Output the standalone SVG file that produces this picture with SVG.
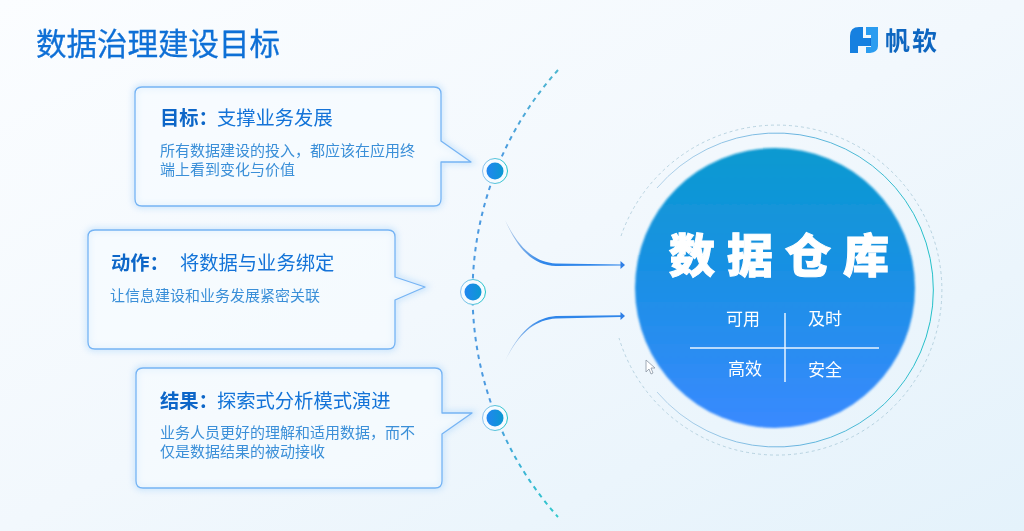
<svg xmlns="http://www.w3.org/2000/svg" width="1024" height="531" viewBox="0 0 1024 531">
<style>
text{font-family:"Noto Sans CJK SC","Noto Sans",sans-serif}
.title{font-size:30.5px;fill:#0f6fd6}
.head{font-size:19.3px;fill:#1273d8}
.headb{font-size:19.3px;fill:#0a66c8;font-weight:700}
.body{font-size:15px;fill:#3a8fd8}
.bub{fill:#f6fbff;fill-opacity:.6;stroke:#76b4f4;stroke-width:1.3;stroke-linejoin:round}
.halo{fill:none;stroke:#8cc4f8;stroke-width:4;opacity:.5}
.sub{font-size:17px;fill:#fff}
</style>
<defs>
<linearGradient id="bg" x1="0" y1="0" x2="1" y2="1"><stop offset="0" stop-color="#fbfdff"/><stop offset=".5" stop-color="#f2f8fd"/><stop offset="1" stop-color="#e4f2fb"/></linearGradient>
<linearGradient id="big" x1="0.5" y1="0" x2="0.5" y2="1"><stop offset="0" stop-color="#0b9ad0"/><stop offset=".45" stop-color="#1a90e4"/><stop offset="1" stop-color="#3a8aff"/></linearGradient>
<linearGradient id="dot" x1="0" y1="0.5" x2="1" y2="0.5"><stop offset="0" stop-color="#2286f0"/><stop offset="1" stop-color="#0b98d2"/></linearGradient>
<linearGradient id="ring" x1="0" y1="0.5" x2="1" y2="0.5"><stop offset="0" stop-color="#8cc0ee"/><stop offset="1" stop-color="#22c4c8"/></linearGradient>
<linearGradient id="ringbig" gradientUnits="userSpaceOnUse" x1="650" y1="290" x2="933" y2="290"><stop offset="0" stop-color="#b8d4ea"/><stop offset=".5" stop-color="#6cb4e0"/><stop offset="1" stop-color="#22c0c8"/></linearGradient>
<linearGradient id="arc" gradientUnits="userSpaceOnUse" x1="0" y1="70" x2="0" y2="517"><stop offset="0" stop-color="#4cb6d0"/><stop offset=".2" stop-color="#4c9ae0"/><stop offset=".75" stop-color="#4c9ae0"/><stop offset="1" stop-color="#30c8cc"/></linearGradient>
<linearGradient id="c1" gradientUnits="userSpaceOnUse" x1="505" y1="220" x2="600" y2="265"><stop offset="0" stop-color="#c4d4e8"/><stop offset=".5" stop-color="#2f86ea"/><stop offset="1" stop-color="#2f86ea"/></linearGradient>
<linearGradient id="c2" gradientUnits="userSpaceOnUse" x1="505" y1="361" x2="600" y2="316"><stop offset="0" stop-color="#c4d4e8"/><stop offset=".5" stop-color="#2f86ea"/><stop offset="1" stop-color="#2f86ea"/></linearGradient>
<filter id="glow" x="-10%" y="-10%" width="120%" height="120%"><feGaussianBlur stdDeviation="3"/></filter>
<filter id="soft" x="-5%" y="-5%" width="110%" height="110%"><feGaussianBlur stdDeviation="1.2"/></filter>
<filter id="t" x="-5%" y="-5%" width="110%" height="110%"><feGaussianBlur stdDeviation="0.35"/></filter>
</defs>
<rect width="1024" height="531" fill="url(#bg)"/>
<g id="title" filter="url(#t)"><text class="title" x="36" y="55" stroke="#0f6fd6" stroke-width=".3">数据治理建设目标</text></g>
<g id="logo" filter="url(#t)">
<path d="M850 53V36Q850 27 859 27H863V38H870V46H858V53Z" fill="#1580e0"/>
<path d="M866 27H878V46Q878 52 870 53H866V47H871V35H866Z" fill="#2a9cf0"/>
<path d="M870 38H871V46H870Z" fill="#0f6fd6"/>
<text x="885" y="50" font-size="25" font-weight="700" fill="#1166c0" letter-spacing="2">帆软</text>
</g>
<g id="connectors">
<path d="M558 70A335 335 0 0 0 558 517" fill="none" stroke="url(#arc)" stroke-width="2" stroke-dasharray="4.500 4.500"/>
<path d="M505 220C520 250 535 262 556 263.500L621 264.500V265.500L556 266C533 265 518 250 505 220Z" fill="url(#c1)"/>
<path d="M505 361C520 330 535 318 556 316L621 315.300V317L556 318.500C535 320 520 332 505 361Z" fill="url(#c2)"/>
<path d="M620.500 261L625 265L620.500 269Z" fill="#2f7fe6"/>
<path d="M620.500 312L625 316L620.500 320Z" fill="#2f7fe6"/>
</g>
<g id="bubble-goal">
<path class="halo" filter="url(#glow)" d="M142 87H434Q441 87 441 94V141L471 162H441V199Q441 206 434 206H142Q135 206 135 199V94Q135 87 142 87Z"/>
<path class="bub" d="M142 87H434Q441 87 441 94V141L471 162H441V199Q441 206 434 206H142Q135 206 135 199V94Q135 87 142 87Z"/>
<g filter="url(#t)">
<text class="headb" x="160" y="125">目标：</text><text class="head" x="217" y="125">支撑业务发展</text>
<text class="body" x="160" y="156">所有数据建设的投入，都应该在应用终</text>
<text class="body" x="160" y="175">端上看到变化与价值</text>
</g>
</g>
<g id="bubble-action">
<path class="halo" filter="url(#glow)" d="M95 230H388Q395 230 395 237V277L425 287L395 300V342Q395 349 388 349H95Q88 349 88 342V237Q88 230 95 230Z"/>
<path class="bub" d="M95 230H388Q395 230 395 237V277L425 287L395 300V342Q395 349 388 349H95Q88 349 88 342V237Q88 230 95 230Z"/>
<g filter="url(#t)">
<text class="headb" x="111" y="270">动作：</text><text class="head" x="180" y="270">将数据与业务绑定</text>
<text class="body" x="110" y="301">让信息建设和业务发展紧密关联</text>
</g>
</g>
<g id="bubble-result">
<path class="halo" filter="url(#glow)" d="M143 368H435Q442 368 442 375V413H472L442 434V481Q442 488 435 488H143Q136 488 136 481V375Q136 368 143 368Z"/>
<path class="bub" d="M143 368H435Q442 368 442 375V413H472L442 434V481Q442 488 435 488H143Q136 488 136 481V375Q136 368 143 368Z"/>
<g filter="url(#t)">
<text class="headb" x="160" y="408">结果：</text><text class="head" x="217" y="408">探索式分析模式演进</text>
<text class="body" x="160" y="438">业务人员更好的理解和适用数据，而不</text>
<text class="body" x="160" y="457">仅是数据结果的被动接收</text>
</g>
</g>
<g id="node-1"><circle cx="495" cy="171" r="12.500" fill="#f6fbff" stroke="url(#ring)" stroke-width="1"/><circle cx="495" cy="171" r="8.500" fill="url(#dot)"/></g>
<g id="node-2"><circle cx="473" cy="292" r="12.500" fill="#f6fbff" stroke="url(#ring)" stroke-width="1"/><circle cx="473" cy="292" r="8.500" fill="url(#dot)"/></g>
<g id="node-3"><circle cx="495" cy="418" r="12.500" fill="#f6fbff" stroke="url(#ring)" stroke-width="1"/><circle cx="495" cy="418" r="8.500" fill="url(#dot)"/></g>
<g id="warehouse">
<path d="M657 188A157 157 0 1 1 657 392" fill="none" stroke="url(#ringbig)" stroke-width="1"/>
<path d="M621 236A165 165 0 1 1 619 338" fill="none" stroke="#a9c9d8" stroke-width=".8" stroke-dasharray="3 3"/>
<circle cx="775" cy="288" r="140" fill="url(#big)" filter="url(#soft)"/>
<g filter="url(#t)">
<text x="669" y="272" font-size="46" font-weight="900" fill="#fff" stroke="#fff" stroke-width="1" letter-spacing="12">数据仓库</text>
<text class="sub" x="726" y="325">可用</text><text class="sub" x="808" y="325">及时</text>
<text class="sub" x="728" y="375">高效</text><text class="sub" x="808" y="376">安全</text>
</g>
<path d="M690 348H879M785 313V382" stroke="#e8f3ff" stroke-width="1.5" fill="none"/>
</g>
<path id="cursor" d="M646 360V372L649 369L651 374L653 373L651 368L655 368Z" fill="#fff" stroke="#8a97a5" stroke-width=".8"/>
</svg>
